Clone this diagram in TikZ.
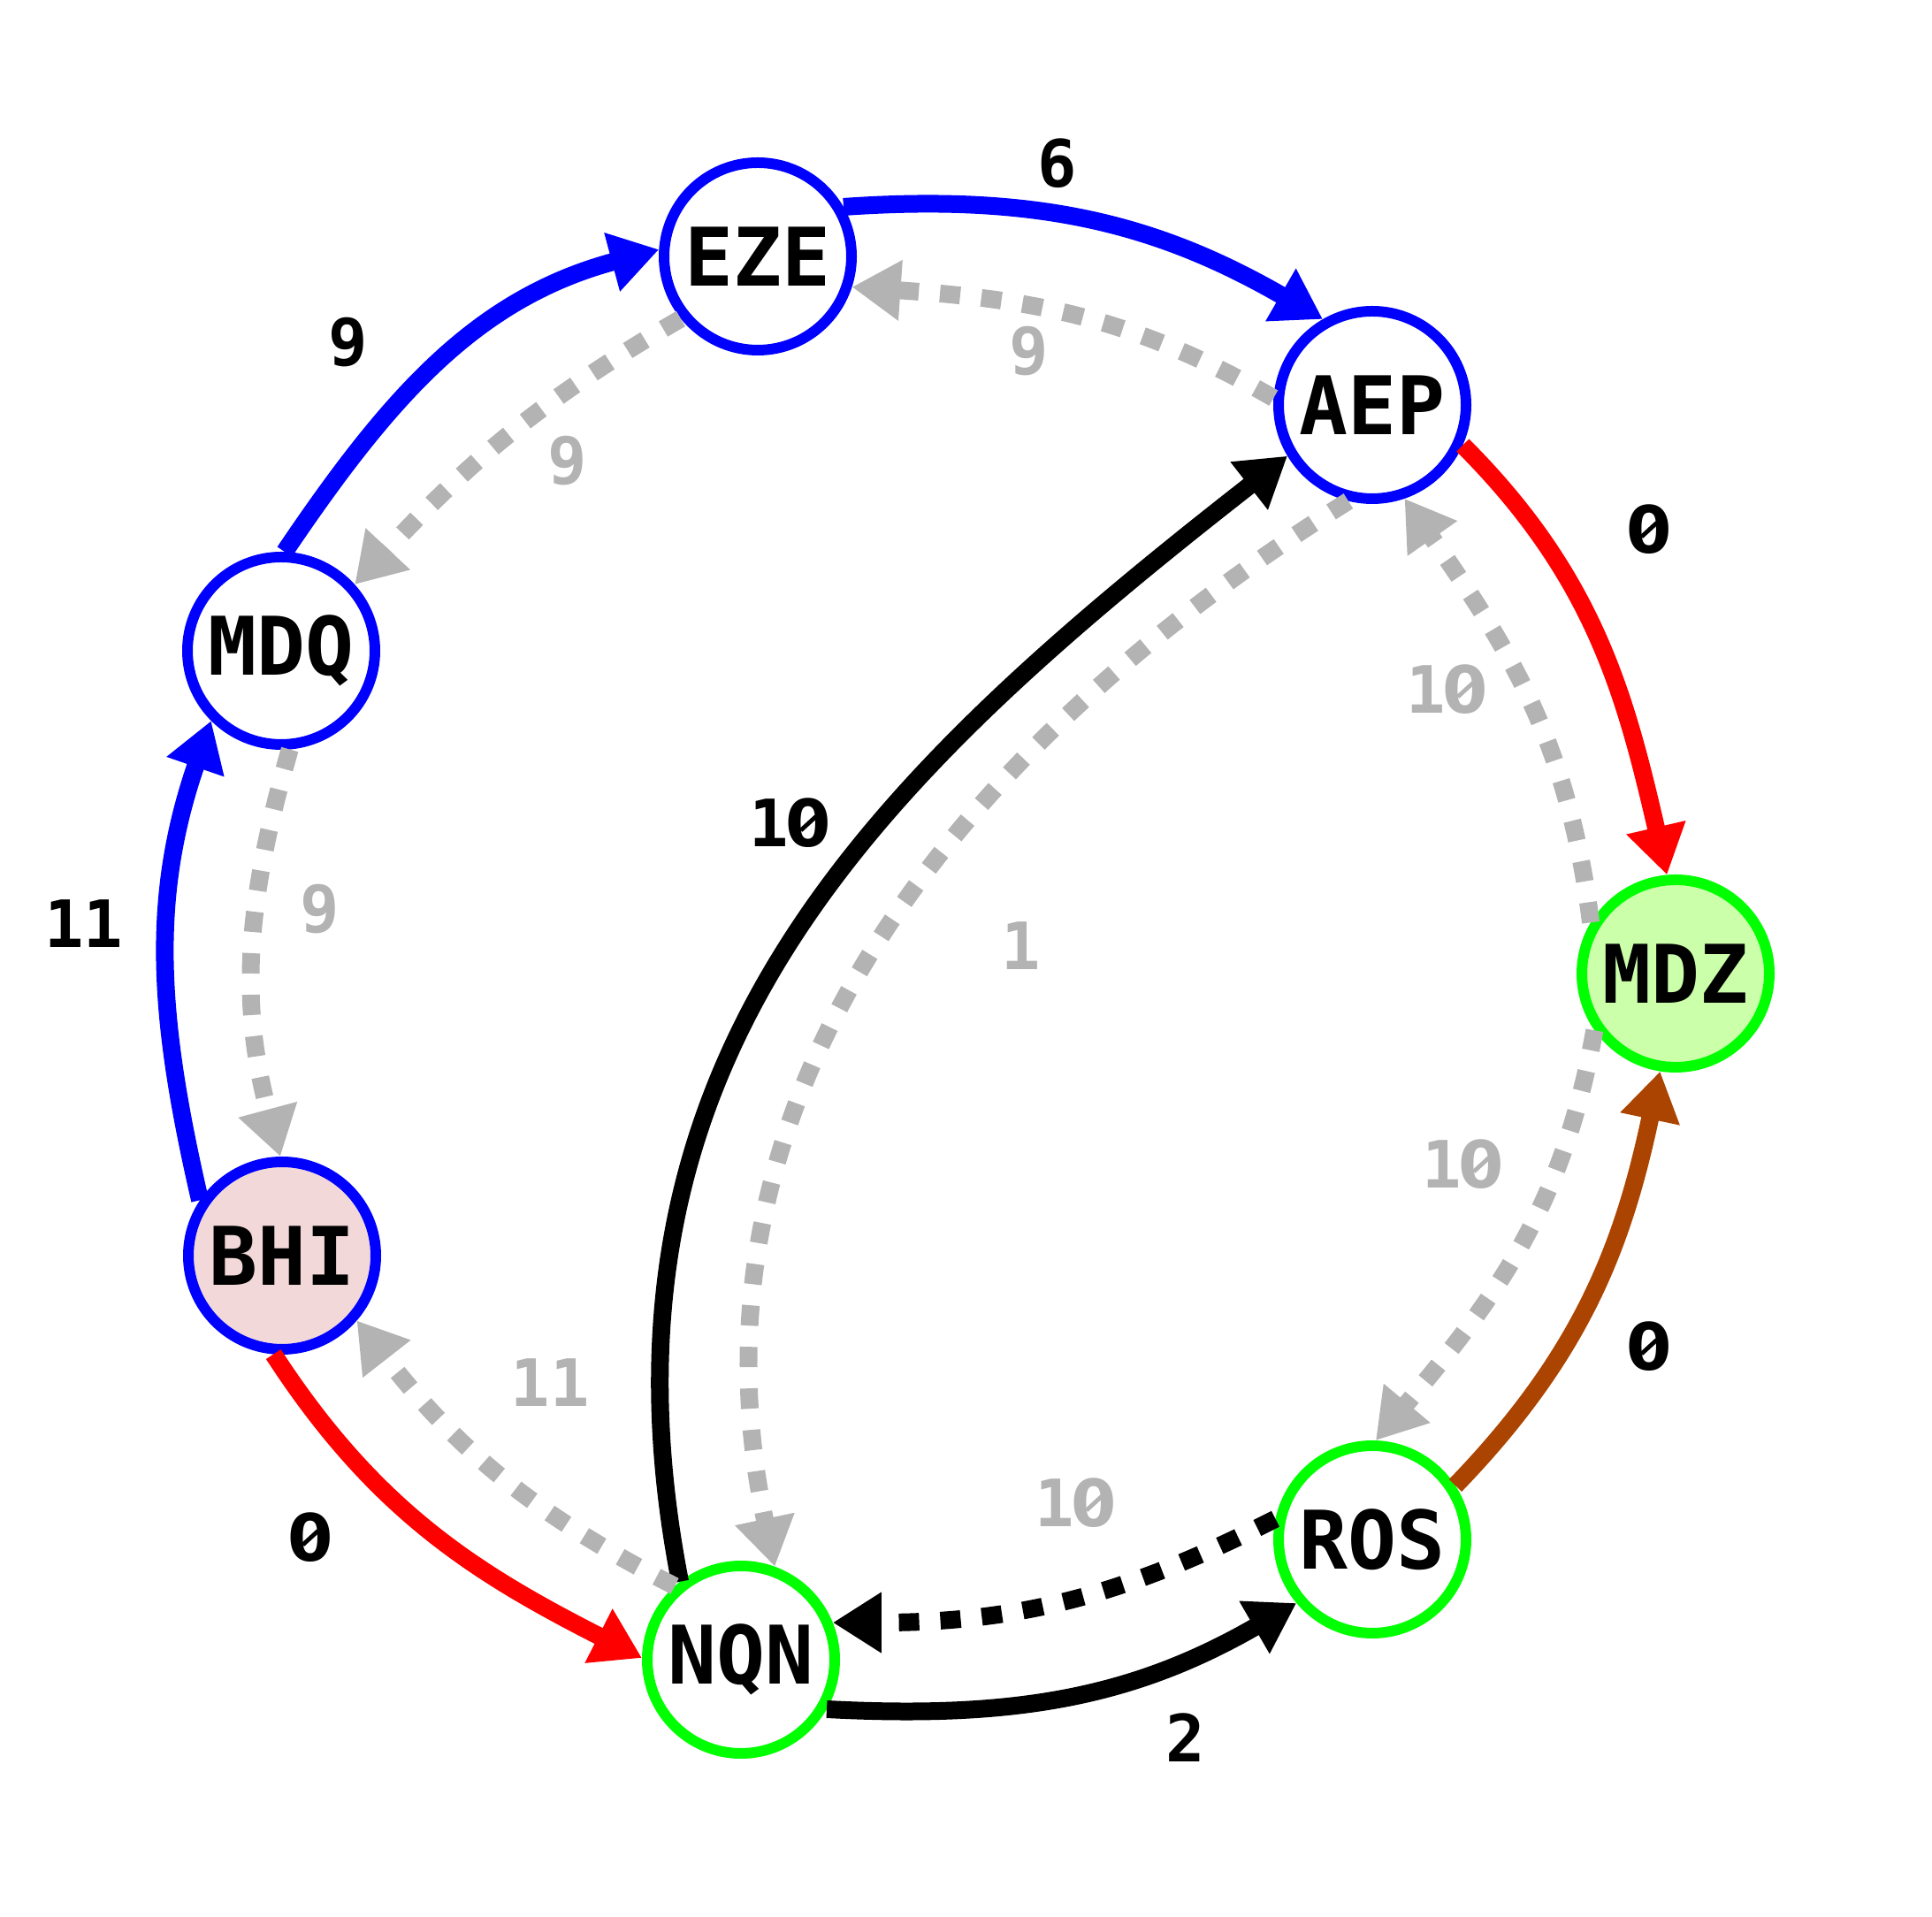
\documentclass[tikz,border=0pt]{standalone}
\usepackage{fontspec}
\setmonofont{DejaVu Sans Mono}
\newfontfamily\zerofont{DejaVu Sans}
\usetikzlibrary{arrows.meta,positioning}

\definecolor{edgegray}{RGB}{179,179,179}
\definecolor{edgebrown}{RGB}{170,68,0}
\definecolor{mdzfill}{RGB}{204,255,170}
\definecolor{bhifill}{RGB}{242,216,216}

% slashed zero
\newcommand{\slzero}{\makebox[0.602em][l]{\makebox[0pt][l]{\makebox[0.602em][c]{\zerofont 0}}%
    \hspace{0.164em}\raisebox{0.231em}{\rotatebox{42.5}{\rule{0.32em}{0.065em}}}}}

\begin{document}
\begin{tikzpicture}[
        airport/.style = {circle, draw, line width=0.12cm, minimum size=2.12cm, inner sep=0pt, fill=white,
                          font=\ttfamily\bfseries\fontsize{26}{26}\selectfont},
        elabel/.style = {font=\ttfamily\bfseries\fontsize{21}{21}\selectfont, inner sep=0pt},
        glabel/.style = {elabel, text=edgegray},
        flow/.style = {line width=0.2cm, -{Triangle[length=0.55cm, width=0.65cm]}},
        dotflow/.style = {flow, dash pattern=on 0.23cm off 0.24cm},
        gflow/.style = {dotflow, draw=edgegray, edgegray}
    ]
    \useasboundingbox (0,0) rectangle (21.85,21.68);

        % Place nodes
        \node [airport, draw=blue] at (8.57,18.78) (EZE) {EZE};
        \node [airport, draw=blue] at (15.52,17.10) (AEP) {AEP};
        \node [airport, draw=blue] at (3.18,14.32) (MDQ) {MDQ};
        \node [airport, draw=green, fill=mdzfill] at (18.95,10.67) (MDZ) {MDZ};
        \node [airport, draw=blue, fill=bhifill] at (3.19,7.48) (BHI) {BHI};
        \node [airport, draw=green] at (15.52,4.27) (ROS) {ROS};
        \node [airport, draw=green] at (8.38,2.91) (NQN) {NQN};

        % Draw edges
        \draw [flow, blue] (MDQ.88) to[out=56, in=195] (EZE.176);
        \draw [flow, blue] (EZE.30) to[out=4, in=150] (AEP.120);
        \draw [flow, red] (AEP.-24) to[out=-45, in=103] (MDZ.95);
        \draw [flow, edgebrown] (ROS.33) to[out=46, in=258] (MDZ.261);
        \draw [flow, black] (NQN.-30) to[out=-3, in=210] (ROS.220);
        \draw [flow, red] (BHI.265) to[out=-57, in=153] (NQN.179);
        \draw [flow, blue] (BHI.146) to[out=103, in=251] (MDQ.225);
        \draw [flow, black] (NQN.128) to[out=101, in=218, looseness=1.06] (AEP.211);

        \draw [gflow] (AEP.176) to[out=150, in=-4] (EZE.-18);
        \draw [gflow] (EZE.219) to[out=210, in=47] (MDQ.42);
        \draw [gflow] (MDQ.-85) to[out=-106, in=105] (BHI.91);
        \draw [gflow] (NQN.132) to[out=153, in=-52] (BHI.-41);
        \draw [dotflow, black] (ROS.168) to[out=207, in=0] (NQN.22);
        \draw [gflow] (MDZ.215) to[out=260, in=50] (ROS.88);
        \draw [gflow] (MDZ.149) to[out=97, in=305] (AEP.289);
        \draw [gflow] (AEP.256) to[out=212, in=102] (NQN.70);

        % Edge labels
        \node [elabel] at (3.94,17.81) (l-mdq-eze) {9};
        \node [elabel] at (11.96,19.83) (l-eze-aep) {6};
        \node [elabel] at (18.65,15.69) (l-aep-mdz) {\slzero};
        \node [elabel] at (18.65,6.45) (l-ros-mdz) {\slzero};
        \node [elabel] at (13.41,2.03) (l-nqn-ros) {2};
        \node [elabel] at (3.51,4.29) (l-bhi-nqn) {\slzero};
        \node [elabel] at (0.95,11.23) (l-bhi-mdq) {11};
        \node [elabel] at (8.92,12.37) (l-nqn-aep) {1\slzero};
        \node [glabel] at (11.64,17.71) (l-aep-eze) {9};
        \node [glabel] at (6.42,16.47) (l-eze-mdq) {9};
        \node [glabel] at (3.62,11.40) (l-mdq-bhi) {9};
        \node [glabel] at (6.22,6.04) (l-nqn-bhi) {11};
        \node [glabel] at (12.15,4.68) (l-ros-nqn) {1\slzero};
        \node [glabel] at (16.53,8.51) (l-mdz-ros) {1\slzero};
        \node [glabel] at (16.35,13.88) (l-mdz-aep) {1\slzero};
        \node [glabel] at (11.55,10.98) (l-aep-nqn) {1};

    \end{tikzpicture}
\end{document}
